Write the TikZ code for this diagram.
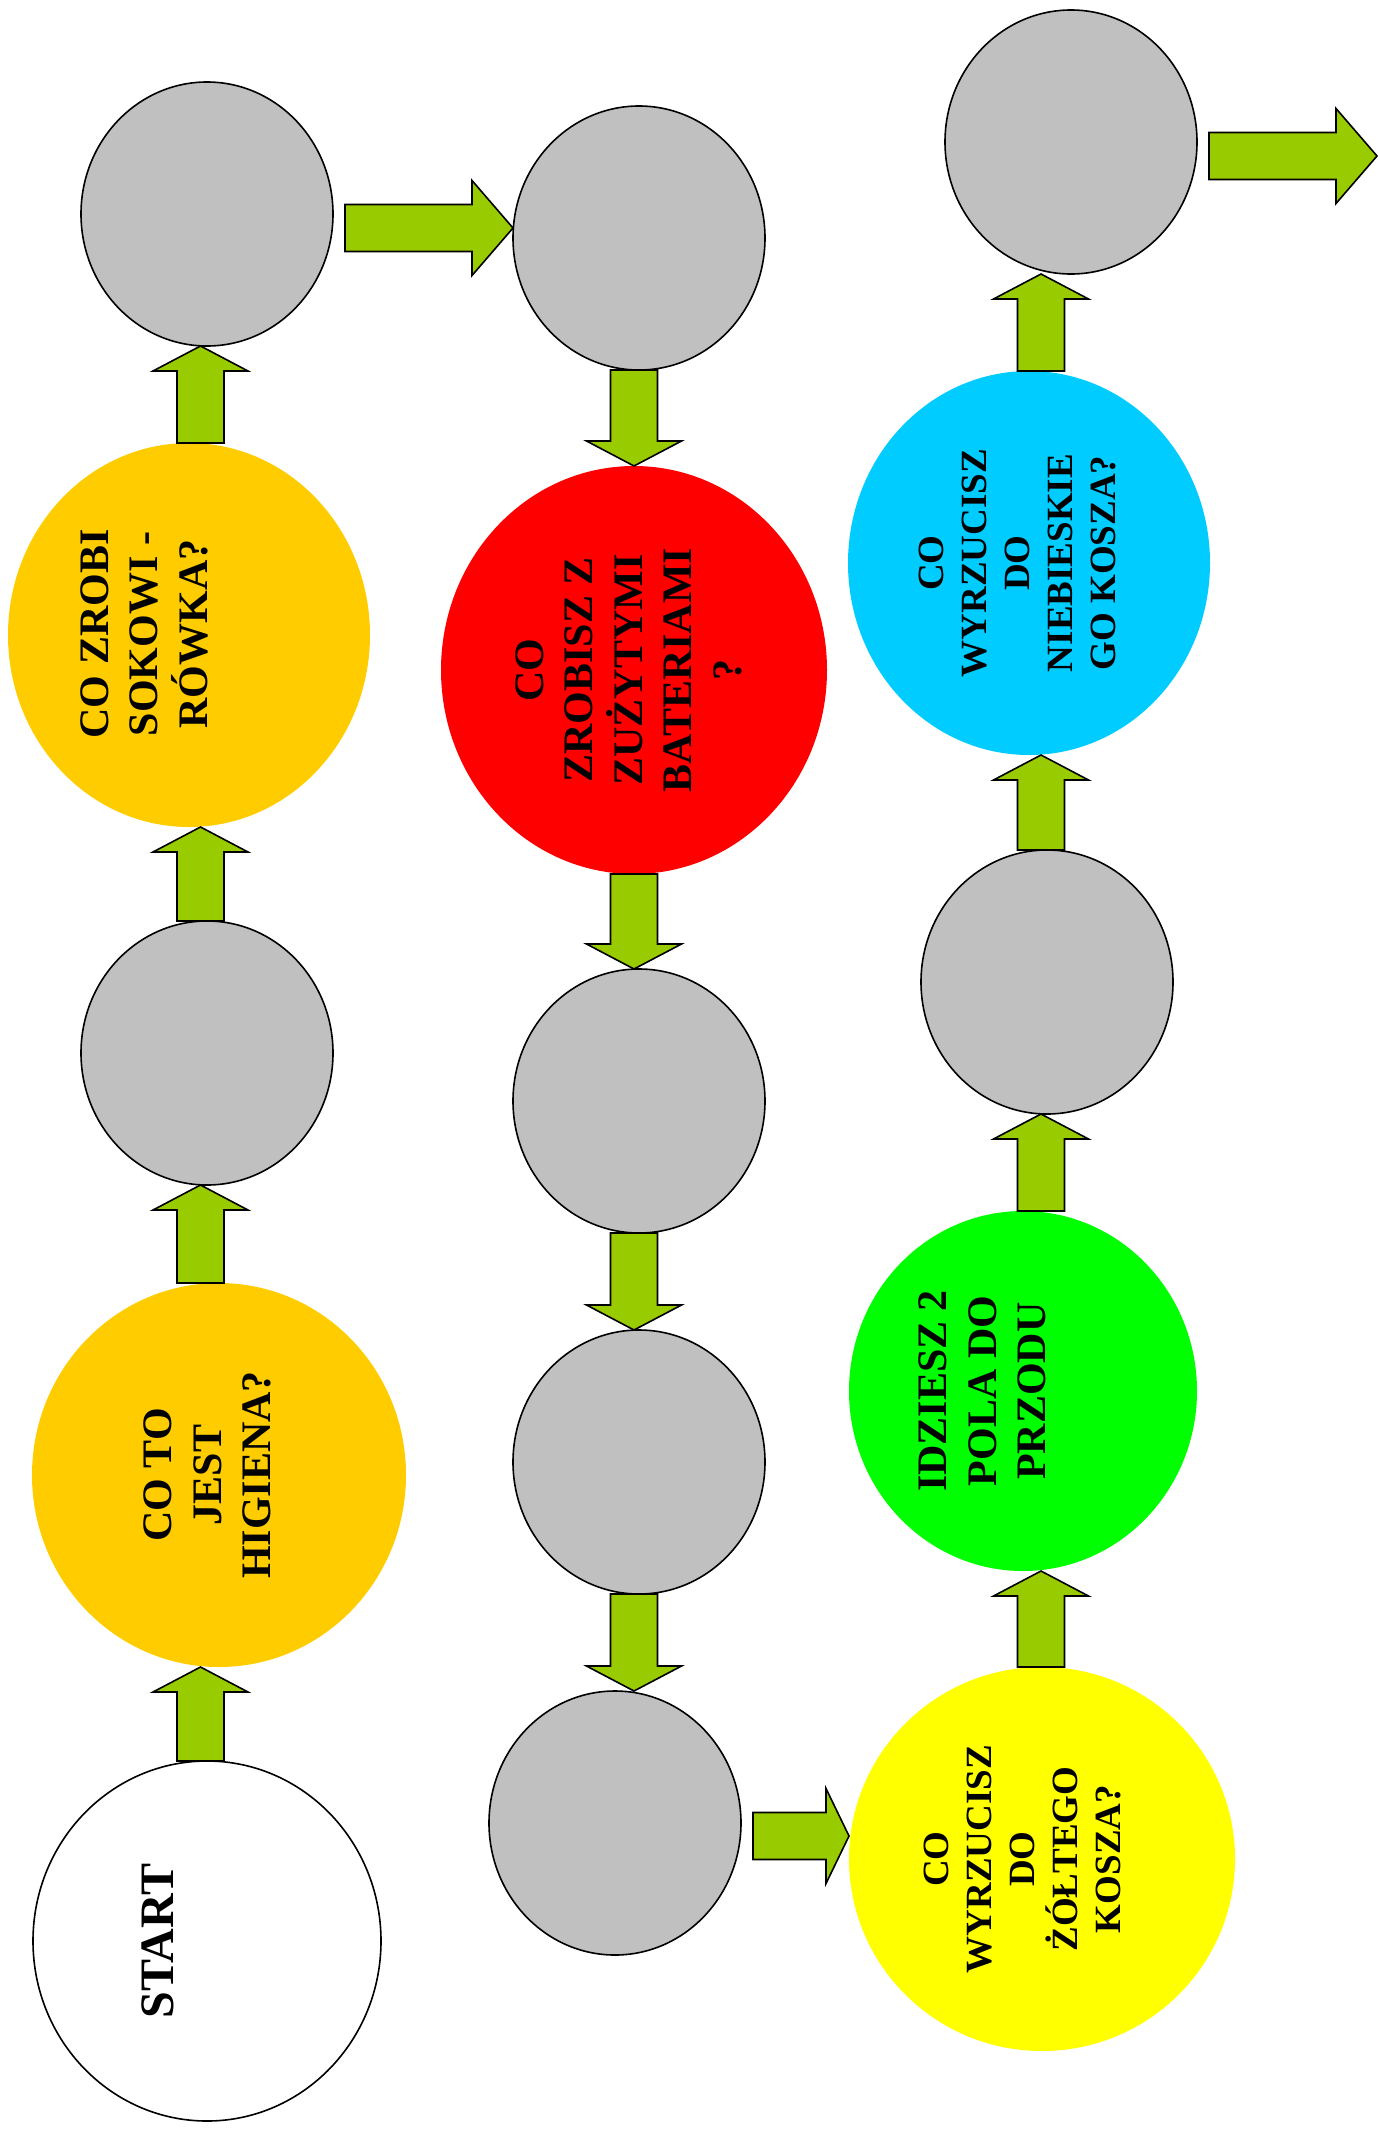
\documentclass[tikz,border=0pt]{standalone}
\usepackage{fontspec}
\setmainfont{Liberation Serif}
\usetikzlibrary{shapes.geometric,calc}
\definecolor{fieldgray}{HTML}{C0C0C0}
\definecolor{fieldorange}{HTML}{FFCC00}
\definecolor{fieldred}{HTML}{FF0000}
\definecolor{fieldgreen}{HTML}{00FF00}
\definecolor{fieldblue}{HTML}{00CCFF}
\definecolor{fieldyellow}{HTML}{FFFF00}
\definecolor{arrowgreen}{HTML}{99CC00}
\tikzset{
  field/.style={ellipse, inner sep=0pt, outer sep=0pt, line width=1.6pt},
  grayfield/.style={field, draw=black, fill=fieldgray, minimum width=252pt, minimum height=264pt},
  lbl/.style={rotate=90, inner sep=0pt, align=center, text=black},
  bigtxt/.style={lbl, font=\fontsize{42}{49.5}\selectfont\bfseries},
  smalltxt/.style={lbl, font=\fontsize{37}{43}\selectfont\bfseries},
  blockarrow/.style={draw=black, fill=arrowgreen, line width=1.6pt, line join=miter},
}
% vertical block arrows: #1 axis coordinate, #2 base point, #3 tip point
\newcommand\blockup[3]{%
  \draw[blockarrow] let \p0=(#1), \p1=(#2), \p2=(#3) in
   (\x0-23.5pt,\y1) -- (\x0-23.5pt,\y2-25pt) -- (\x0-47.5pt,\y2-25pt) -- (\x0,\y2)
   -- (\x0+47.5pt,\y2-25pt) -- (\x0+23.5pt,\y2-25pt) -- (\x0+23.5pt,\y1) -- cycle;}
\newcommand\blockdown[3]{%
  \draw[blockarrow] let \p0=(#1), \p1=(#2), \p2=(#3) in
   (\x0-23.5pt,\y1) -- (\x0-23.5pt,\y2+25pt) -- (\x0-47.5pt,\y2+25pt) -- (\x0,\y2)
   -- (\x0+47.5pt,\y2+25pt) -- (\x0+23.5pt,\y2+25pt) -- (\x0+23.5pt,\y1) -- cycle;}
% horizontal block arrow: #1 axis coordinate, #2 start point, #3 tip point, #4 head length
\newcommand\blockright[4]{%
  \draw[blockarrow] let \p0=(#1), \p1=(#2), \p2=(#3) in
   (\x1,\y0-23.5pt) -- (\x2-#4,\y0-23.5pt) -- (\x2-#4,\y0-47.5pt) -- (\x2,\y0)
   -- (\x2-#4,\y0+47.5pt) -- (\x2-#4,\y0+23.5pt) -- (\x1,\y0+23.5pt) -- cycle;}
\begin{document}
\begin{tikzpicture}[x=1pt,y=-1pt]
\useasboundingbox (0,0) rectangle (1377,2136);

% ---- column 1 ----
\node[field, draw=black, fill=white, minimum width=348pt, minimum height=360pt] (start) at (207,1941) {};
\node[field, fill=fieldorange, minimum width=374pt, minimum height=384pt] (higiena) at (219,1475) {};
\node[grayfield] (g1) at (207,1053) {};
\node[field, fill=fieldorange, minimum width=362pt, minimum height=384pt] (soko) at (189,635) {};
\node[grayfield] (g2) at (207,214) {};

% ---- column 2 ----
\node[grayfield] (g3) at (639,238) {};
\node[field, fill=fieldred, minimum width=386pt, minimum height=408pt] (bat) at (634,670) {};
\node[grayfield] (g4) at (639,1101) {};
\node[grayfield] (g5) at (639,1462) {};
\node[grayfield] (g6) at (615,1823) {};

% ---- column 3 ----
\node[field, fill=fieldyellow, minimum width=386pt, minimum height=384pt] (yellow) at (1042,1859) {};
\node[field, fill=fieldgreen, minimum width=348pt, minimum height=360pt] (go) at (1023,1391) {};
\node[grayfield] (g7) at (1047,982) {};
\node[field, fill=fieldblue, minimum width=362pt, minimum height=384pt] (blue) at (1029,563) {};
\node[grayfield] (g8) at (1071,142) {};

% ---- texts ----
\node[lbl, font=\fontsize{48}{56}\selectfont\bfseries] (t-start) at (158,1941) {START};
\node[bigtxt] (t-higiena) at (207.5,1475) {CO TO\\JEST\\HIGIENA?};
\node[bigtxt] (t-soko) at (144,634) {CO ZROBI\\SOKOWI -\\RÓWKA?};
\node[bigtxt] (t-bat) at (628.5,670) {CO\\ZROBISZ Z\\ZUŻYTYMI\\BATERIAMI\\?};
\node[bigtxt] (t-go) at (982.5,1391) {IDZIESZ 2\\POLA DO\\PRZODU};
\node[smalltxt] (t-blue) at (1017.5,563) {CO\\WYRZUCISZ\\DO\\NIEBIESKIE\\GO KOSZA?};
\node[smalltxt] (t-yellow) at (1022.5,1859) {CO\\WYRZUCISZ\\DO\\ŻÓŁTEGO\\KOSZA?};

% ---- arrow axes ----
\coordinate (ax1) at (200.5,0);
\coordinate (ax2) at (634,0);
\coordinate (ax3) at (1041,0);
\coordinate (r1) at (0,228);
\coordinate (r2) at (0,1836);
\coordinate (r3) at (0,156);
\coordinate (exit) at (1377,156);

% column 1 (upwards)
\blockup{ax1}{ax1 |- start.north}{ax1 |- higiena.south}
\blockup{ax1}{ax1 |- higiena.north}{ax1 |- g1.south}
\blockup{ax1}{ax1 |- g1.north}{ax1 |- soko.south}
\blockup{ax1}{ax1 |- soko.north}{ax1 |- g2.south}
% across
\blockright{r1}{$(g2.east)+(12,0)$}{g3.west}{41pt}
% column 2 (downwards)
\blockdown{ax2}{ax2 |- g3.south}{ax2 |- bat.north}
\blockdown{ax2}{ax2 |- bat.south}{ax2 |- g4.north}
\blockdown{ax2}{ax2 |- g4.south}{ax2 |- g5.north}
\blockdown{ax2}{ax2 |- g5.south}{ax2 |- g6.north}
% across
\blockright{r2}{$(g6.east)+(12,0)$}{yellow.west}{23pt}
% column 3 (upwards)
\blockup{ax3}{ax3 |- yellow.north}{ax3 |- go.south}
\blockup{ax3}{ax3 |- go.north}{ax3 |- g7.south}
\blockup{ax3}{ax3 |- g7.north}{ax3 |- blue.south}
\blockup{ax3}{ax3 |- blue.north}{ax3 |- g8.south}
% exit
\blockright{r3}{$(g8.east)+(12,0)$}{exit}{41pt}
\end{tikzpicture}
\end{document}
